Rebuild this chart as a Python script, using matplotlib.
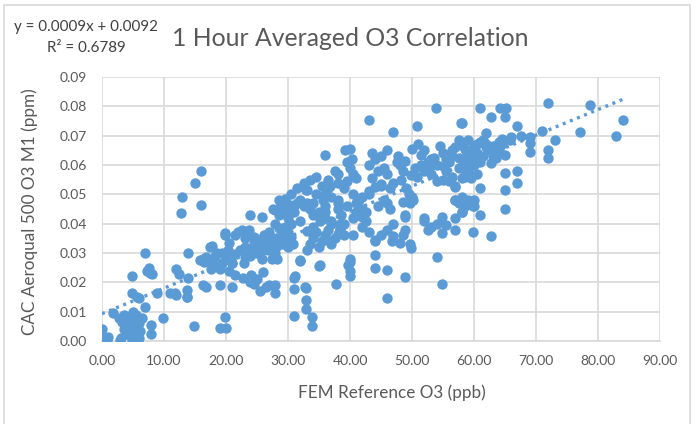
import numpy as np
import matplotlib
matplotlib.use("Agg")
import matplotlib.pyplot as plt
from matplotlib.patches import Rectangle

# FEM reference O3 (ppb) vs CAC Aeroqual 500 O3 M1 (ppm)
low_x = [0.0, 0.0, 0.8, 1.0, 1.8, 2.7, 2.9, 3.0, 3.5, 3.5,
         3.8, 4.0, 4.0, 4.5, 4.8, 4.8, 5.0, 5.0, 5.0, 5.5,
         5.5, 6.0, 6.0, 6.5, 4.2, 3.2, 5.8, 4.5, 6.2, 5.2]
low_y = [0.004, 0.0015, 0.0003, 0.0015, 0.0095, 0.008, 0.0003, 0.001, 0.009, 0.004,
         0.0025, 0.007, 0.005, 0.008, 0.0003, 0.001, 0.010, 0.005, 0.003, 0.009,
         0.002, 0.006, 0.001, 0.008, 0.0065, 0.0065, 0.0075, 0.003, 0.0035, 0.0085]

b_x = [4.8, 4.9, 5.6, 6.0, 6.9, 6.9, 7.2, 7.5, 7.7, 8.0,
       8.8, 9.8, 7.9, 7.9, 11.0, 11.7, 11.9, 11.9, 12.4, 13.7,
       13.7, 13.8, 13.8, 12.8, 12.9, 15.0, 16.0, 16.0, 14.8, 13.7]
b_y = [0.022, 0.0165, 0.015, 0.0145, 0.030, 0.0115, 0.024, 0.025, 0.0233, 0.023,
       0.0163, 0.008, 0.0056, 0.0024, 0.0163, 0.0163, 0.0245, 0.0158, 0.023, 0.0174,
       0.015, 0.030, 0.0215, 0.0436, 0.049, 0.054, 0.058, 0.0464, 0.0052, 0.0150]

c_x = [15.8, 16.3, 16.5, 16.8, 17.0, 17.4, 17.7, 18.0, 18.5, 19.0,
       19.4, 19.8, 19.8, 20.0, 19.0, 20.0, 19.8, 16.3, 16.8, 19.0,
       20.9, 19.3, 20.3, 18.3, 17.5, 20.5, 21.0, 18.5, 20.5, 21.5]
c_y = [0.0276, 0.028, 0.027, 0.0285, 0.0275, 0.032, 0.0325, 0.026, 0.0255, 0.0245,
       0.0265, 0.0368, 0.036, 0.0285, 0.0044, 0.0044, 0.0083, 0.019, 0.0185, 0.019,
       0.0185, 0.030, 0.031, 0.029, 0.0245, 0.0335, 0.0265, 0.030, 0.024, 0.0225]

d_x = [21.5, 22.0, 22.5, 23.0, 23.7, 23.9, 25.8, 27.6, 22.8, 23.9,
       25.0, 26.0, 27.0, 27.9, 25.8, 26.5, 27.9, 22.9, 20.9, 24.0,
       24.5, 25.5, 26.5, 27.4, 28.2, 23.5, 24.2, 25.0, 26.0, 27.0,
       28.0, 29.0, 30.0, 28.5, 27.9, 29.2, 28.7, 29.6, 30.4, 21.5,
       22.2, 23.0, 24.5, 25.3, 26.2, 27.0, 28.5, 29.5, 30.5, 23.0,
       23.8, 24.8, 25.5, 27.4, 26.8, 24.5, 27.9, 27.9, 29.0, 30.0]
d_y = [0.036, 0.037, 0.038, 0.035, 0.038, 0.043, 0.0424, 0.045, 0.0215, 0.020,
       0.021, 0.0235, 0.019, 0.0163, 0.028, 0.033, 0.030, 0.0265, 0.0265, 0.0225,
       0.0195, 0.017, 0.0185, 0.028, 0.028, 0.030, 0.031, 0.032, 0.033, 0.034,
       0.035, 0.036, 0.037, 0.043, 0.0445, 0.0435, 0.0458, 0.046, 0.0465, 0.0295,
       0.031, 0.032, 0.0335, 0.0345, 0.036, 0.037, 0.0385, 0.039, 0.040, 0.0285,
       0.029, 0.030, 0.031, 0.032, 0.031, 0.0355, 0.040, 0.019, 0.034, 0.0355]

e_x = [30.6, 31.0, 31.5, 32.0, 32.5, 33.0, 33.5, 34.0, 32.9, 33.0,
       34.5, 35.6, 36.0, 36.5, 36.8, 36.0, 38.0, 38.0, 38.0, 38.0,
       38.0, 35.2, 35.6, 38.4, 38.4, 33.0, 33.5, 34.0, 34.5, 35.0,
       35.5, 36.0, 36.5, 37.0, 37.5, 38.0, 38.4, 26.0, 27.0, 28.0,
       29.0, 30.0, 30.8, 32.0, 35.2, 39.6, 40.0, 31.9, 35.0, 40.0,
       40.0, 37.8, 31.0, 31.0, 32.9, 32.9, 32.9, 33.8, 33.8, 31.0,
       31.1, 32.7, 40.0, 36.0, 34.0, 37.0, 39.0, 33.0, 36.5, 30.5]
e_y = [0.0447, 0.046, 0.047, 0.048, 0.046, 0.0515, 0.045, 0.047, 0.0515, 0.047,
       0.050, 0.048, 0.050, 0.052, 0.053, 0.0634, 0.054, 0.057, 0.045, 0.047,
       0.048, 0.041, 0.042, 0.038, 0.040, 0.031, 0.033, 0.035, 0.037, 0.032,
       0.034, 0.036, 0.038, 0.033, 0.035, 0.0365, 0.0385, 0.031, 0.032, 0.032,
       0.033, 0.032, 0.033, 0.0276, 0.026, 0.026, 0.028, 0.0274, 0.0257, 0.027,
       0.022, 0.0195, 0.0216, 0.0177, 0.0182, 0.014, 0.0108, 0.0083, 0.0051, 0.0086,
       0.022, 0.0185, 0.024, 0.044, 0.039, 0.040, 0.036, 0.0375, 0.0345, 0.0355]

eu_x = [28.5, 29.5, 30.5, 31.5, 32.5, 33.5, 34.5, 35.5, 36.5, 37.5,
        39.2, 39.5, 40.0, 40.0, 40.3, 39.5, 40.5, 41.0, 39.0, 40.5,
        41.0, 34.0, 35.0, 36.0, 37.0, 30.0, 31.0, 32.0, 36.0, 37.0]
eu_y = [0.048, 0.0485, 0.050, 0.052, 0.054, 0.055, 0.056, 0.053, 0.055, 0.058,
        0.065, 0.061, 0.059, 0.0655, 0.062, 0.0545, 0.057, 0.0555, 0.052, 0.050,
        0.047, 0.043, 0.044, 0.042, 0.041, 0.042, 0.044, 0.041, 0.046, 0.049]

f_x = [43.0, 46.9, 50.8, 43.0, 43.5, 44.0, 45.0, 44.5, 43.5, 45.5,
       46.0, 47.0, 46.5, 45.0, 44.0, 47.7, 48.0, 48.5, 48.2, 49.0,
       49.5, 50.2, 49.8, 48.8, 48.5, 50.0, 42.0, 42.5, 43.0, 44.0,
       45.0, 46.0, 47.0, 41.9, 48.9, 48.9, 47.0, 48.0, 49.9, 44.0,
       44.0, 45.9, 45.9, 48.9, 42.0, 43.0, 44.5, 45.5, 46.5, 41.0,
       42.0, 40.5, 39.0, 38.5, 39.5, 41.5, 43.0, 45.0, 46.0, 49.7,
       50.0, 48.9, 44.0, 46.8, 48.5, 49.7, 40.5, 42.5, 47.5, 46.0]
f_y = [0.0753, 0.0714, 0.0733, 0.060, 0.064, 0.062, 0.063, 0.058, 0.0555, 0.059,
       0.057, 0.054, 0.052, 0.0535, 0.0525, 0.063, 0.060, 0.058, 0.055, 0.052,
       0.050, 0.048, 0.0565, 0.0615, 0.0475, 0.0655, 0.039, 0.041, 0.037, 0.034,
       0.036, 0.038, 0.040, 0.0424, 0.0424, 0.0378, 0.0358, 0.0333, 0.0316, 0.0293,
       0.0248, 0.0242, 0.0148, 0.0217, 0.049, 0.051, 0.046, 0.048, 0.045, 0.044,
       0.045, 0.042, 0.040, 0.043, 0.046, 0.048, 0.050, 0.053, 0.047, 0.047,
       0.049, 0.043, 0.0344, 0.034, 0.036, 0.033, 0.036, 0.044, 0.061, 0.065]

g_x = [53.9, 57.9, 51.0, 52.0, 53.0, 54.0, 54.5, 55.0, 56.0, 56.5,
       57.0, 57.5, 58.0, 58.5, 59.0, 55.5, 56.5, 57.5, 50.8, 52.0,
       53.0, 54.0, 51.5, 53.5, 55.0, 56.0, 57.0, 58.0, 56.9, 57.0,
       58.0, 58.0, 52.0, 53.0, 52.5, 54.8, 54.8, 56.9, 57.6, 58.5,
       59.0, 54.0, 54.8, 50.0, 56.9, 52.0, 54.0, 55.5, 57.0, 58.2,
       59.5, 51.5, 53.0, 55.0, 57.5, 50.5, 52.5, 55.5, 56.5, 58.8]
g_y = [0.0793, 0.0744, 0.067, 0.065, 0.062, 0.060, 0.0665, 0.064, 0.061, 0.063,
       0.066, 0.0685, 0.067, 0.0655, 0.0685, 0.058, 0.056, 0.059, 0.056, 0.058,
       0.057, 0.0545, 0.060, 0.0625, 0.055, 0.0545, 0.053, 0.0555, 0.0526, 0.048,
       0.048, 0.0441, 0.041, 0.039, 0.038, 0.0424, 0.0367, 0.0378, 0.047, 0.046,
       0.048, 0.0287, 0.0193, 0.048, 0.048, 0.042, 0.040, 0.0395, 0.042, 0.061,
       0.0635, 0.0635, 0.060, 0.0595, 0.0625, 0.059, 0.061, 0.062, 0.065, 0.064]

h_x = [61.0, 64.2, 65.1, 65.0, 62.8, 72.0, 78.7, 58.0, 66.9, 62.0,
       65.8, 64.5, 64.0, 63.0, 63.5, 62.5, 61.5, 60.5, 59.5, 60.0,
       59.0, 58.5, 61.0, 60.0, 59.0, 62.0, 70.9, 69.0, 69.0, 69.0,
       73.0, 77.1, 72.0, 72.0, 65.0, 62.8, 65.0, 66.9, 66.9, 65.0,
       61.0, 58.0, 59.0, 60.5, 59.5, 58.5, 58.0, 59.0, 60.0, 59.8,
       59.9, 62.8, 58.0, 60.0, 84.0, 82.9, 61.0, 65.0, 63.0, 64.0,
       61.5, 60.5, 62.0, 63.5, 66.0, 67.5, 64.5, 61.0, 63.0, 60.0]
h_y = [0.0793, 0.0793, 0.0793, 0.0765, 0.0765, 0.081, 0.0805, 0.0744, 0.0734, 0.0708,
       0.0685, 0.067, 0.0655, 0.0665, 0.064, 0.065, 0.063, 0.064, 0.062, 0.066,
       0.0645, 0.0655, 0.061, 0.0625, 0.0605, 0.067, 0.0717, 0.0696, 0.0675, 0.0645,
       0.0685, 0.0714, 0.065, 0.0623, 0.0634, 0.0608, 0.0574, 0.058, 0.0538, 0.0515,
       0.052, 0.059, 0.058, 0.057, 0.0555, 0.056, 0.049, 0.047, 0.048, 0.046,
       0.0373, 0.0358, 0.044, 0.046, 0.0753, 0.070, 0.043, 0.045, 0.066, 0.068,
       0.0685, 0.067, 0.066, 0.0625, 0.0695, 0.070, 0.069, 0.068, 0.063, 0.060]

# linear trendline as Excel shows it (unrounded values so the line lands where it does)
trend_slope = 0.00087
trend_intercept = 0.0093
r_squared = 0.6789

x_ticks = np.arange(0, 91, 10)
y_ticks = np.arange(0, 0.091, 0.01)

fem = np.concatenate([low_x, b_x, c_x, d_x, e_x, eu_x, f_x, g_x, h_x])
cac = np.concatenate([low_y, b_y, c_y, d_y, e_y, eu_y, f_y, g_y, h_y])

plt.rcParams["font.family"] = ["Lato", "DejaVu Sans"]
blue = "#5B9BD5"
grey_txt = "#595959"
grid_col = "#D9D9D9"

fig = plt.figure(figsize=(6.96, 4.24), dpi=100)
ax = fig.add_axes([102 / 696, 1 - 341 / 424, 558 / 696, 264 / 424])

ax.scatter(fem, cac, s=56, color=blue, linewidths=0, zorder=3)

xt = np.array([0, fem.max()])
ax.plot(xt, trend_slope * xt + trend_intercept, color=blue, lw=2.4,
        linestyle=(0, (0.9, 1.4)), zorder=4)

ax.set_xlim(0, 90)
ax.set_ylim(0, 0.09)
ax.set_xticks(x_ticks)
ax.set_yticks(y_ticks)
ax.set_xticklabels([f"{v:.2f}" for v in x_ticks])
ax.set_yticklabels([f"{v:.2f}" for v in y_ticks])
ax.tick_params(length=0, labelsize=10, colors=grey_txt)
ax.tick_params(axis="x", pad=10)
ax.tick_params(axis="y", pad=11)
ax.grid(True, color=grid_col, lw=1.2, zorder=0)
ax.set_axisbelow(True)
for s in ["top", "right", "left"]:
    ax.spines[s].set_visible(False)
ax.spines["bottom"].set_color(grid_col)
ax.spines["bottom"].set_linewidth(1.2)

fig.text(30 / 696, 1 - 212 / 424, "CAC Aeroqual 500 O3 M1 (ppm)", rotation=90,
         ha="center", va="center", fontsize=12.3, color=grey_txt)
fig.text(392 / 696, 1 - 393 / 424, "FEM Reference O3 (ppb)",
         ha="center", va="center", fontsize=12.3, color=grey_txt)
fig.text(350 / 696, 1 - 39 / 424, "1 Hour Averaged O3 Correlation",
         ha="center", va="center", fontsize=17.8, color=grey_txt)
fig.text(86 / 696, 1 - 27 / 424,
         f"y = {trend_slope:.4f}x + {trend_intercept - 0.0001:.4f}",
         ha="center", va="center", fontsize=10.9, color="#404040")
fig.text(86 / 696, 1 - 48 / 424, f"R² = {r_squared:.4f}",
         ha="center", va="center", fontsize=10.9, color="#404040")

# chart area border
fig.patches.append(Rectangle((4 / 696, -0.05), 686 / 696, 1.05 - 5 / 424,
                             transform=fig.transFigure, fill=False,
                             edgecolor=grid_col, lw=1.2))

fig.savefig("out.png", dpi=100)
